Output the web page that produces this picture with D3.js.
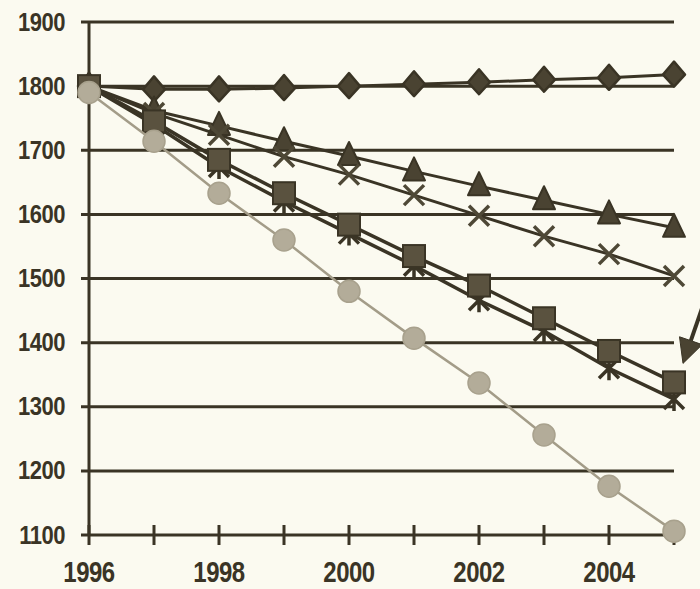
<!DOCTYPE html>
<html>
<head>
<meta charset="utf-8">
<script src="https://cdn.jsdelivr.net/npm/d3@7"></script>
<style>
  html, body { margin: 0; padding: 0; background: #fbfaf0; }
  svg { display: block; }
</style>
</head>
<body>
<svg id="chart" width="700" height="589"></svg>
<script>
// ---- data ----
const years = [1996, 1997, 1998, 1999, 2000, 2001, 2002, 2003, 2004, 2005];
const diamonds  = [1800, 1795, 1795, 1797, 1800, 1803, 1806, 1810, 1813, 1818];
const triangles = [1800, 1762, 1738, 1714, 1691, 1667, 1644, 1622, 1600, 1579];
const crosses   = [1800, 1758, 1724, 1690, 1662, 1630, 1598, 1566, 1538, 1504];
const asterisks = [1800, 1740, 1674, 1620, 1570, 1520, 1466, 1418, 1360, 1312];
const squares   = [1800, 1745, 1685, 1633, 1584, 1535, 1489, 1438, 1387, 1338];
const circles   = [1790, 1714, 1633, 1560, 1480, 1407, 1337, 1256, 1176, 1106];
const yTicks = [1100, 1200, 1300, 1400, 1500, 1600, 1700, 1800, 1900];
const xTickYears = [1996, 1997, 1998, 1999, 2000, 2001, 2002, 2003, 2004, 2005];
const xLabelYears = [1996, 1998, 2000, 2002, 2004];

// ---- setup ----
const dark = "#3a3425";
const light = "#b3ac99";
const lightLine = "#a39c88";
const svg = d3.select("#chart");
const x = d3.scaleLinear().domain([1996, 2005]).range([89, 674]);
const y = d3.scaleLinear().domain([1100, 1900]).range([535, 22]);

// gridlines
svg.append("g").selectAll("line").data(yTicks).join("line")
  .attr("x1", x(1996) - 8).attr("x2", x(2005))
  .attr("y1", d => y(d)).attr("y2", d => y(d))
  .attr("stroke", dark).attr("stroke-width", 3);

// y axis line
svg.append("line").attr("x1", x(1996)).attr("x2", x(1996))
  .attr("y1", y(1900) - 1).attr("y2", y(1100) + 1)
  .attr("stroke", dark).attr("stroke-width", 3);

// x ticks
svg.append("g").selectAll("line").data(xTickYears).join("line")
  .attr("x1", d => x(d)).attr("x2", d => x(d))
  .attr("y1", y(1100) - 10).attr("y2", y(1100) + 10)
  .attr("stroke", dark).attr("stroke-width", 3);

// y labels
svg.append("g").selectAll("text").data(yTicks).join("text")
  .attr("transform", d => `translate(65,${y(d) + 8.5}) scale(1,1.15)`)
  .attr("text-anchor", "end")
  .attr("font-family", "'Liberation Sans', Arial, sans-serif")
  .attr("font-weight", "bold").attr("font-size", 22)
  .attr("letter-spacing", -0.5)
  .attr("fill", dark)
  .text(d => d);

// x labels
svg.append("g").selectAll("text").data(xLabelYears).join("text")
  .attr("transform", d => `translate(${x(d)},582) scale(1,1.2)`)
  .attr("text-anchor", "middle")
  .attr("font-family", "'Liberation Sans', Arial, sans-serif")
  .attr("font-weight", "bold").attr("font-size", 24)
  .attr("letter-spacing", -0.5)
  .attr("fill", dark)
  .text(d => d);

const line = d3.line().x((d, i) => x(years[i])).y(d => y(d));

function drawSeries(vals, stroke, width, markerFn) {
  const g = svg.append("g");
  g.append("path").datum(vals).attr("d", line)
    .attr("fill", "none").attr("stroke", stroke).attr("stroke-width", width);
  vals.forEach((v, i) => markerFn(g, x(years[i]), y(v)));
}

// marker shapes
function diamond(g, cx, cy) {
  g.append("path")
    .attr("d", `M${cx},${cy - 13} L${cx + 11},${cy} L${cx},${cy + 12} L${cx - 11},${cy} Z`)
    .attr("fill", "#4a4332").attr("stroke", dark).attr("stroke-width", 2.5).attr("stroke-linejoin", "round");
}
function triangle(g, cx, cy) {
  g.append("path")
    .attr("d", `M${cx},${cy - 14} L${cx + 11},${cy + 9} L${cx - 11},${cy + 9} Z`)
    .attr("fill", "#4a4332").attr("stroke", dark).attr("stroke-width", 2).attr("stroke-linejoin", "round");
}
function cross(g, cx, cy) {
  const s = 10;
  g.append("path")
    .attr("d", `M${cx - s},${cy - s} L${cx + s},${cy + s} M${cx + s},${cy - s} L${cx - s},${cy + s}`)
    .attr("stroke", "#4e4836").attr("stroke-width", 3.5).attr("fill", "none");
}
function asterisk(g, cx, cy) {
  const s = 10;
  g.append("path")
    .attr("d", `M${cx - s},${cy - s} L${cx + s},${cy + s} M${cx + s},${cy - s} L${cx - s},${cy + s} M${cx},${cy - s - 2} L${cx},${cy + s + 2}`)
    .attr("stroke", dark).attr("stroke-width", 3.5).attr("fill", "none");
}
function square(g, cx, cy) {
  g.append("rect").attr("x", cx - 11).attr("y", cy - 11).attr("width", 22).attr("height", 22)
    .attr("fill", "#5a523f").attr("stroke", dark).attr("stroke-width", 2);
}
function circle(g, cx, cy) {
  g.append("circle").attr("cx", cx).attr("cy", cy).attr("r", 11)
    .attr("fill", light).attr("stroke", "#a8a18d").attr("stroke-width", 1.5);
}

drawSeries(diamonds, dark, 3, diamond);
drawSeries(triangles, dark, 3, triangle);
drawSeries(crosses, dark, 3, cross);
drawSeries(asterisks, dark, 3.5, asterisk);
drawSeries(squares, dark, 3.5, square);
drawSeries(circles, lightLine, 2.5, circle);

// arrow annotation pointing at the end of the squares series
const tipX = x(2005) + 9, tipY = y(squares[squares.length - 1]) - 19;
const tailX = 702, tailY = tipY - 55;
const ang = Math.atan2(tipY - tailY, tipX - tailX);
const headLen = 24, headW = 12;
const bx = tipX - headLen * Math.cos(ang), by = tipY - headLen * Math.sin(ang);
svg.append("line").attr("x1", tailX).attr("y1", tailY).attr("x2", bx).attr("y2", by)
  .attr("stroke", dark).attr("stroke-width", 4);
svg.append("path")
  .attr("d", `M${tipX},${tipY} L${bx + headW * Math.sin(ang)},${by - headW * Math.cos(ang)} L${bx - headW * Math.sin(ang)},${by + headW * Math.cos(ang)} Z`)
  .attr("fill", "#4a4332").attr("stroke", dark).attr("stroke-width", 1);
</script>
</body>
</html>
